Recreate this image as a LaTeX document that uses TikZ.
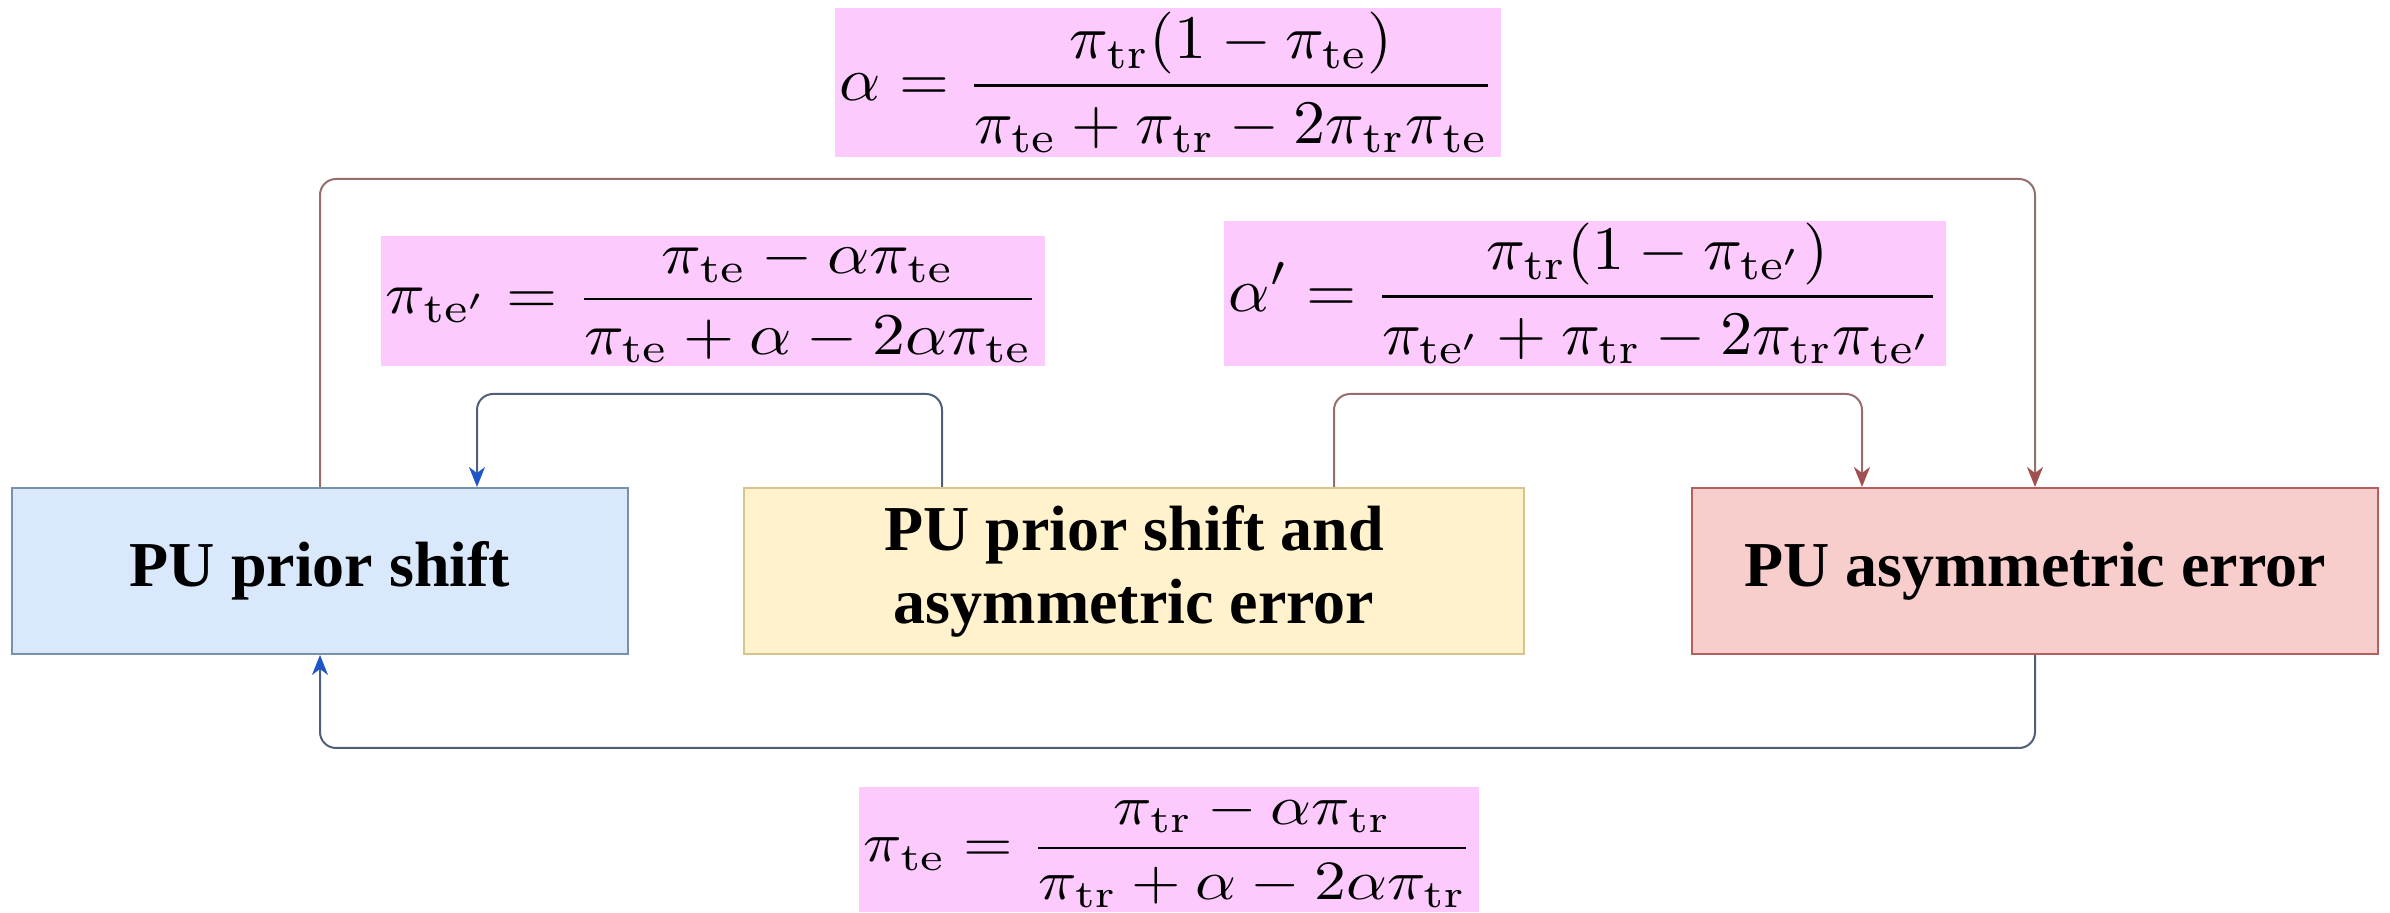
\documentclass[tikz,border=0pt]{standalone}
\usepackage[no-math]{fontspec}
\setmainfont{Liberation Serif}
\usepackage{graphicx}
\usetikzlibrary{arrows.meta}
\definecolor{pinkfill}{RGB}{252,202,252}
\definecolor{bluefill}{RGB}{218,232,252}
\definecolor{bluestroke}{RGB}{120,145,172}
\definecolor{yellowfill}{RGB}{255,242,204}
\definecolor{yellowstroke}{RGB}{214,196,140}
\definecolor{redfill}{RGB}{248,206,204}
\definecolor{redstroke}{RGB}{180,96,94}
\definecolor{brownline}{RGB}{150,110,110}
\definecolor{brownhead}{RGB}{160,80,80}
\definecolor{blueline}{RGB}{80,95,120}
\definecolor{bluehead}{RGB}{30,86,200}
\begin{document}
\begin{tikzpicture}[x=0.5pt,y=-0.5pt,
  box/.style={draw, line width=1pt, minimum height=83pt, inner sep=0pt, align=center,
    font=\fontsize{32}{36.5}\selectfont\bfseries},
  formula/.style={fill=pinkfill, inner sep=0pt, anchor=center},
  conn/.style={line width=1pt, rounded corners=8pt},
  brownarrow/.style={conn, draw=brownline, -{Stealth[length=10pt,width=8pt,inset=3pt,color=brownhead]}},
  bluearrow/.style={conn, draw=blueline, -{Stealth[length=10pt,width=8pt,inset=3pt,color=bluehead]}}
]
\useasboundingbox (0,0) rectangle (2390,913);
% boxes
\node[box, fill=bluefill, draw=bluestroke, minimum width=308pt] (ps) at (320,571) {PU prior shift};
\node[box, fill=yellowfill, draw=yellowstroke, minimum width=390pt] (ya) at (1134,571) {PU prior shift and\\asymmetric error};
\node[box, fill=redfill, draw=redstroke, minimum width=343pt] (pa) at (2035,571) {PU asymmetric error};
% formulas
\node[formula, minimum width=333pt, minimum height=74.5pt] (fa) at (1168,82.5)
  {\resizebox*{328pt}{70pt}{$\displaystyle \alpha = \frac{\pi_{\mathrm{tr}}(1-\pi_{\mathrm{te}})}{\pi_{\mathrm{te}}+\pi_{\mathrm{tr}}-2\pi_{\mathrm{tr}}\pi_{\mathrm{te}}}$}};
\node[formula, minimum width=332pt, minimum height=65pt] (fl) at (713,301)
  {\resizebox*{327pt}{62pt}{$\displaystyle \pi_{\mathrm{te}'} = \frac{\pi_{\mathrm{te}}-\alpha\pi_{\mathrm{te}}}{\pi_{\mathrm{te}}+\alpha-2\alpha\pi_{\mathrm{te}}}$}};
\node[formula, minimum width=361pt, minimum height=72.5pt] (fr) at (1585,293.5)
  {\resizebox*{356pt}{70pt}{$\displaystyle \alpha' = \frac{\pi_{\mathrm{tr}}(1-\pi_{\mathrm{te}'})}{\pi_{\mathrm{te}'}+\pi_{\mathrm{tr}}-2\pi_{\mathrm{tr}}\pi_{\mathrm{te}'}}$}};
\node[formula, minimum width=310pt, minimum height=62.5pt] (fb) at (1169,850)
  {\resizebox*{305pt}{58pt}{$\displaystyle \pi_{\mathrm{te}} = \frac{\pi_{\mathrm{tr}}-\alpha\pi_{\mathrm{tr}}}{\pi_{\mathrm{tr}}+\alpha-2\alpha\pi_{\mathrm{tr}}}$}};
% connectors
\draw[brownarrow] (ps.north) -- ++(0,-308) -| (pa.north);
\draw[bluearrow] ([xshift=-96pt]ya.north) -- ++(0,-93) -| ([xshift=78.5pt]ps.north);
\draw[brownarrow] ([xshift=100pt]ya.north) -- ++(0,-93) -| ([xshift=-86.5pt]pa.north);
\draw[bluearrow] (pa.south) -- ++(0,93) -| (ps.south);
\end{tikzpicture}
\end{document}
